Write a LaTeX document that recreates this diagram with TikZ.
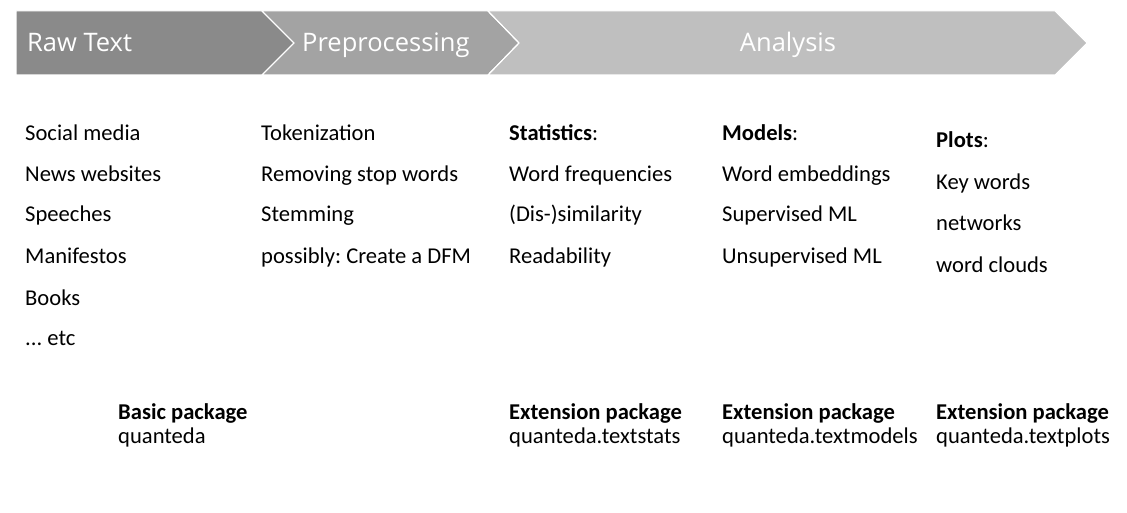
\documentclass[tikz,border=0pt]{standalone}
\usepackage{fontspec}
\setmainfont{Carlito}
\newfontfamily\headfont{Open Sans}
\frenchspacing
\begin{document}
\begin{tikzpicture}[x=1pt,y=-1pt,
  stage/.style={draw=white,line width=1pt},
  head/.style={text=white,font=\headfont\fontsize{25.5}{30}\selectfont,inner sep=0pt},
  item/.style={anchor=base west,inner sep=0pt,font=\fontsize{22.6}{24}\selectfont},
  pkg/.style={anchor=base west,inner sep=0pt,font=\fontsize{22.6}{24}\selectfont,align=left}]
\useasboundingbox (0,0) rectangle (1127,513);
% process chevrons
\fill[stage,fill=black!46] (16,11) -- (262,11) -- (294,43) -- (262,75) -- (16,75) -- cycle;
\fill[stage,fill=black!36] (262,11) -- (488,11) -- (519,43) -- (488,75) -- (262,75) -- (294,43) -- cycle;
\fill[stage,fill=black!25] (488,11) -- (1055,11) -- (1087,43) -- (1055,75) -- (488,75) -- (519,43) -- cycle;
\draw[white,line width=1pt] (262,11) -- (294,43) -- (262,75) (488,11) -- (519,43) -- (488,75);
\node[head,anchor=base west] (hraw) at (27,52) {Raw Text};
\node[head,anchor=base west] (hpre) at (302,52) {Preprocessing};
\node[head,anchor=base] (hana) at (788,52) {Analysis};
% raw text sources
\node[item] (r1) at (25,141) {Social media};
\node[item] (r2) at (25,182) {News websites};
\node[item] (r3) at (25,222) {Speeches};
\node[item] (r4) at (25,263) {Manifestos};
\node[item] (r5) at (25,305) {Books};
\node[item] (r6) at (25,345) {... etc};
% preprocessing steps
\node[item] (p1) at (261,141) {Tokenization};
\node[item] (p2) at (261,182) {Removing stop words};
\node[item] (p3) at (261,222) {Stemming};
\node[item] (p4) at (261,263) {possibly: Create a DFM};
% statistics
\node[item] (s0) at (509,141) {\textbf{Statistics}:};
\node[item] (s1) at (509,182) {Word frequencies};
\node[item] (s2) at (509,222) {(Dis-)similarity};
\node[item] (s3) at (509,263) {Readability};
% models
\node[item] (m0) at (722,141) {\textbf{Models}:};
\node[item] (m1) at (722,182) {Word embeddings};
\node[item] (m2) at (722,222) {Supervised ML};
\node[item] (m3) at (722,263) {Unsupervised ML};
% plots
\node[item] (q0) at (936,148) {\textbf{Plots}:};
\node[item] (q1) at (936,190) {Key words};
\node[item] (q2) at (936,230) {networks};
\node[item] (q3) at (936,272) {word clouds};
% packages
\node[pkg] (k1) at (118,443) {\textbf{Basic package}\\quanteda};
\node[pkg] (k2) at (509,443) {\textbf{Extension package}\\quanteda.textstats};
\node[pkg] (k3) at (722,443) {\textbf{Extension package}\\quanteda.textmodels};
\node[pkg] (k4) at (936,443) {\textbf{Extension package}\\quanteda.textplots};
\end{tikzpicture}
\end{document}
